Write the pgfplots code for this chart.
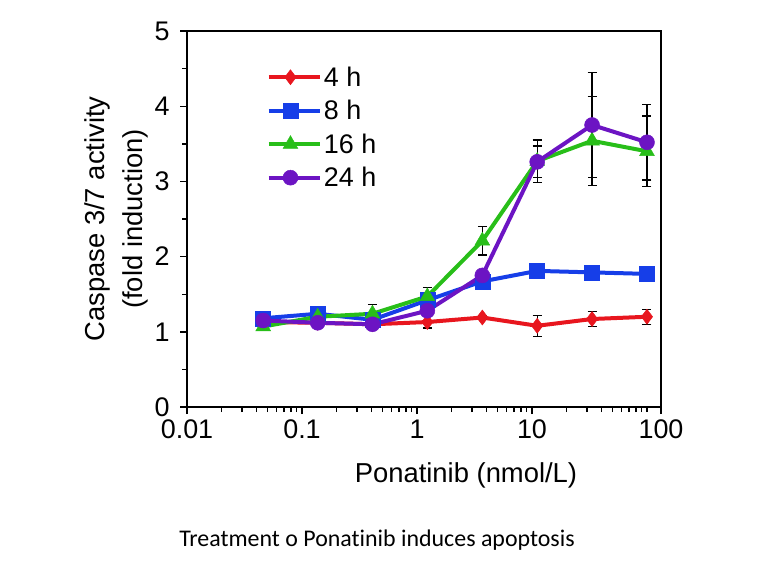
\documentclass[border=0pt]{standalone}
\usepackage{pgfplots}
\pgfplotsset{compat=1.18}
\usepackage{pgfplotstable}
\usepackage{fontspec}
\setmainfont{Liberation Sans}
\newfontfamily\calfont[Ligatures=NoCommon]{Carlito}
\definecolor{cred}{RGB}{232,22,30}
\definecolor{cblue}{RGB}{22,62,232}
\definecolor{cgreen}{RGB}{40,190,25}
\definecolor{cpurple}{RGB}{108,20,195}

\pgfplotstableread{
x y ey
0.046 1.13 0
0.137 1.12 0
0.41 1.10 0.05
1.23 1.13 0.08
3.7 1.19 0.03
11.1 1.08 0.14
33.3 1.17 0.10
100 1.20 0.10
}\tfour
\pgfplotstableread{
x y ey
0.046 1.18 0.03
0.137 1.24 0.08
0.41 1.16 0.05
1.23 1.42 0.10
3.7 1.67 0.05
11.1 1.81 0.04
33.3 1.79 0.05
100 1.77 0.04
}\teight
\pgfplotstableread{
x y ey
0.046 1.07 0.03
0.137 1.20 0.06
0.41 1.24 0.12
1.23 1.47 0.12
3.7 2.21 0.19
11.1 3.27 0.28
33.3 3.54 0.59
100 3.40 0.47
}\tsixteen
\pgfplotstableread{
x y ey
0.046 1.15 0.03
0.137 1.12 0.03
0.41 1.10 0.05
1.23 1.28 0.05
3.7 1.75 0.05
11.1 3.26 0.21
33.3 3.75 0.70
100 3.52 0.50
}\ttwentyfour

\begin{document}
\begin{tikzpicture}
\begin{axis}[
  at={(0,0)}, anchor=south west,
  scale only axis, width=474bp, height=376bp,
  xmode=log, xmin=0.01, xmax=132.4, ymin=0, ymax=5,
  axis line style={line width=1.8bp},
  every tick/.style={black, line width=1.4bp},
  tick align=outside, tick pos=left,
  major tick length=7bp, minor tick length=5bp,
  xtick={0.01,0.1,1,10,132.4},
  xticklabels={0.01,0.1,1,10,100},
  minor xtick={0.02,0.03,0.04,0.05,0.06,0.07,0.08,0.09,0.2,0.3,0.4,0.5,0.6,0.7,0.8,0.9,2,3,4,5,6,7,8,9,20,30,40,50,60,70,80,90,100},
  ytick={0,1,2,3,4,5},
  minor ytick={0.5,1.5,2.5,3.5,4.5},
  /pgf/number format/assume math mode=true,
  ticklabel style={font=\fontsize{27}{32}\selectfont},
  xticklabel shift=2bp,
  yticklabel shift=7bp,
  xlabel={Ponatinib (nmol/L)},
  xlabel style={font=\fontsize{27.5}{32}\selectfont, at={(axis description cs:0.5886,-0.202)}, anchor=base},
  ylabel={Caspase 3/7 activity\\(fold induction)},
  ylabel style={font=\fontsize{27.5}{38}\selectfont, align=center, at={(axis description cs:-0.1498,0.5)}, anchor=center},
  legend style={at={(0.162,0.916)}, anchor=north west, draw=none, fill=none,
    font=\fontsize{27}{32}\selectfont, row sep=8.5bp},
  legend cell align=left,
  legend image code/.code={\path (0bp,0bp) -- (51bp,0bp); \draw[mark repeat=2,mark phase=2] plot coordinates {(0bp,0bp) (21.5bp,0bp) (43bp,0bp)};},
  every axis plot/.append style={line width=4bp},
  error bars/y dir=both, error bars/y explicit,
  error bars/error bar style={black, line width=1.3bp},
  error bars/error mark options={black, rotate=90, mark size=4.5bp, line width=1.3bp},
]
\addplot[cred, mark=diamond*, mark size=7.5bp, mark options={solid, line width=0.5bp}] table[x=x, y=y, y error=ey] {\tfour};
\addlegendentry{4 h}
\addplot[cblue, mark=square*, mark size=7.5bp, mark options={solid, line width=0.5bp}] table[x=x, y=y, y error=ey] {\teight};
\addlegendentry{8 h}
\addplot[cgreen, mark=triangle*, mark size=8.5bp, mark options={solid, line width=0.5bp}] table[x=x, y=y, y error=ey] {\tsixteen};
\addlegendentry{16 h}
\addplot[cpurple, mark=*, mark size=7.5bp, mark options={solid, line width=0.5bp}] table[x=x, y=y, y error=ey] {\ttwentyfour};
\addlegendentry{24 h}
\end{axis}
\node[anchor=base, font=\calfont\fontsize{24}{28}\selectfont] at (190bp,-139bp) {Treatment o Ponatinib induces apoptosis};
\path[use as bounding box] (-187bp,-165bp) rectangle (575bp,407bp);
\end{tikzpicture}
\end{document}
